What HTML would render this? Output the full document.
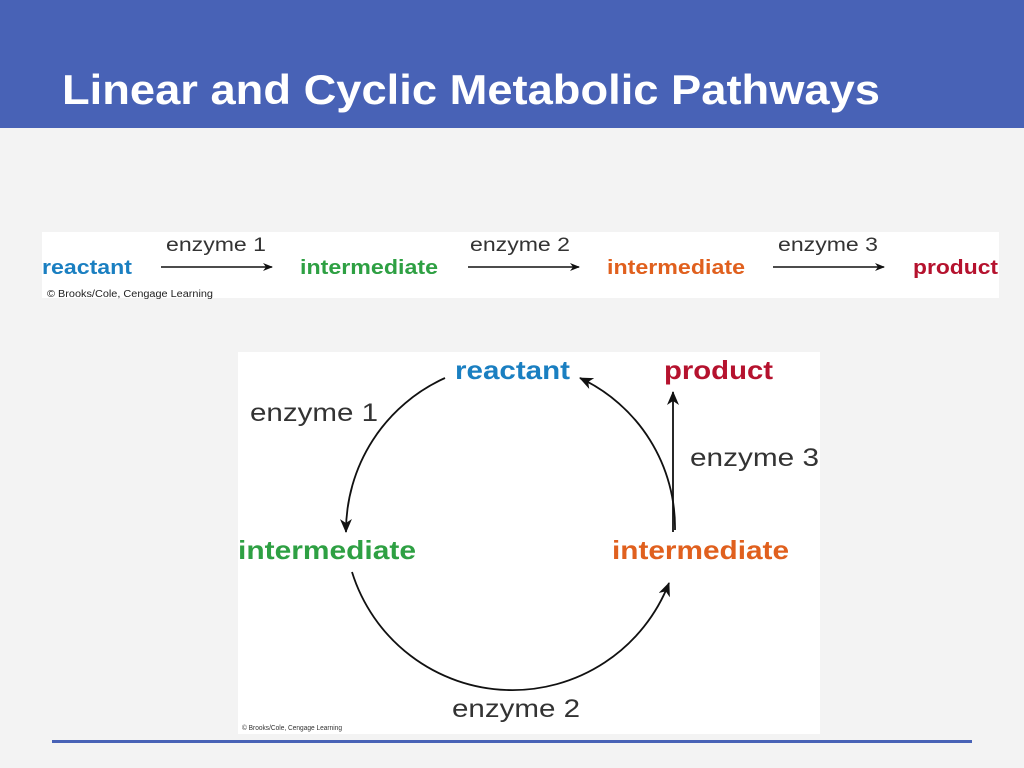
<!DOCTYPE html>
<html><head><style>
body{margin:0;width:1024px;height:768px;background:#f3f3f3;font-family:"Liberation Sans",sans-serif;position:relative;overflow:hidden}
.hdr{position:absolute;left:0;top:0;width:1024px;height:128px;background:#4862b6}
svg{position:absolute;left:0;top:0}
</style></head><body>
<div class="hdr"></div>
<svg width="1024" height="768" font-family="Liberation Sans, sans-serif">
<defs><marker id="a" markerWidth="10" markerHeight="8" refX="9" refY="4" orient="auto" markerUnits="userSpaceOnUse"><path d="M0,0 L10,4 L0,8 L3,4z" fill="#111"/></marker>
<marker id="b" markerWidth="14" markerHeight="12" refX="13" refY="6" orient="auto" markerUnits="userSpaceOnUse"><path d="M0,0 L14,6 L0,12 L4,6z" fill="#111"/></marker></defs>
<text x="62" y="104" font-size="42" font-weight="bold" fill="#fff" textLength="818" lengthAdjust="spacingAndGlyphs">Linear and Cyclic Metabolic Pathways</text>
<rect x="42" y="232" width="957" height="66" fill="#fff"/>
<g font-size="20" font-weight="bold">
<text x="42" y="274" fill="#1a7fc1" textLength="90" lengthAdjust="spacingAndGlyphs">reactant</text>
<text x="300" y="274" fill="#2ea043" textLength="138" lengthAdjust="spacingAndGlyphs">intermediate</text>
<text x="607" y="274" fill="#e0601e" textLength="138" lengthAdjust="spacingAndGlyphs">intermediate</text>
<text x="913" y="274" fill="#b5122e" textLength="85" lengthAdjust="spacingAndGlyphs">product</text></g>
<g font-size="19" fill="#333">
<text x="166" y="251" textLength="100" lengthAdjust="spacingAndGlyphs">enzyme 1</text><text x="470" y="251" textLength="100" lengthAdjust="spacingAndGlyphs">enzyme 2</text><text x="778" y="251" textLength="100" lengthAdjust="spacingAndGlyphs">enzyme 3</text></g>
<g stroke="#111" stroke-width="1.5">
<line x1="161" y1="267" x2="272" y2="267" marker-end="url(#a)"/>
<line x1="468" y1="267" x2="579" y2="267" marker-end="url(#a)"/>
<line x1="773" y1="267" x2="884" y2="267" marker-end="url(#a)"/></g>
<text x="47" y="297" font-size="10" fill="#222" textLength="166" lengthAdjust="spacingAndGlyphs">© Brooks/Cole, Cengage Learning</text>
<rect x="238" y="352" width="582" height="382" fill="#fff"/>
<g font-size="26" font-weight="bold">
<text x="455" y="379" fill="#1a7fc1" textLength="115" lengthAdjust="spacingAndGlyphs">reactant</text>
<text x="664" y="379" fill="#b5122e" textLength="109" lengthAdjust="spacingAndGlyphs">product</text>
<text x="238" y="559" fill="#2ea043" textLength="178" lengthAdjust="spacingAndGlyphs">intermediate</text>
<text x="612" y="559" fill="#e0601e" textLength="177" lengthAdjust="spacingAndGlyphs">intermediate</text></g>
<g font-size="25" fill="#333">
<text x="250" y="421" textLength="128" lengthAdjust="spacingAndGlyphs">enzyme 1</text><text x="690" y="466" textLength="129" lengthAdjust="spacingAndGlyphs">enzyme 3</text><text x="452" y="717" textLength="128" lengthAdjust="spacingAndGlyphs">enzyme 2</text></g>
<g stroke="#111" stroke-width="1.8" fill="none">
<path d="M445,378 A168,168 0 0 0 346,532" marker-end="url(#b)"/>
<path d="M352,572 A168,168 0 0 0 669,583" marker-end="url(#b)"/>
<path d="M675,530 A165,165 0 0 0 580,378" marker-end="url(#b)"/>
<line x1="673" y1="532" x2="673" y2="392" marker-end="url(#b)"/></g>
<text x="242" y="730" font-size="7" fill="#333" textLength="100" lengthAdjust="spacingAndGlyphs">© Brooks/Cole, Cengage Learning</text>
<rect x="52" y="740" width="920" height="3" fill="#4862b6"/>
</svg>
</body></html>
